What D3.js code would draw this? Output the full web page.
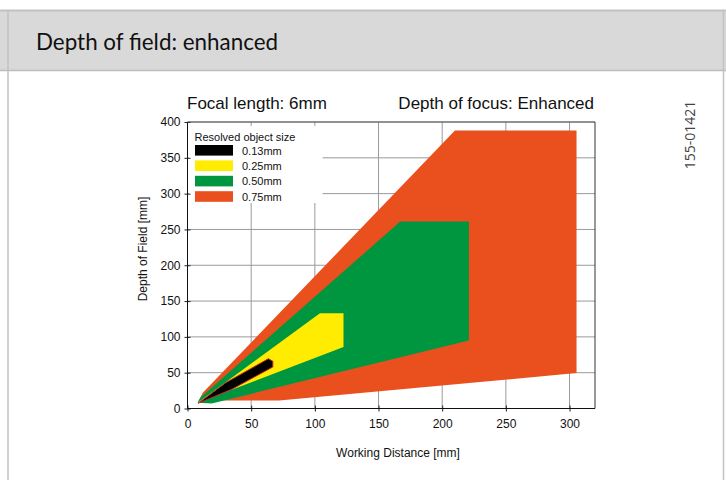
<!DOCTYPE html>
<html><head><meta charset="utf-8">
<script src="https://cdn.jsdelivr.net/npm/d3@7"></script>
<style>html,body{margin:0;padding:0;background:#fff;}svg{display:block;}</style>
</head><body>
<script>
// ---- data ----
const sizeLabels = ["0.13mm", "0.25mm", "0.50mm", "0.75mm"];
// polygon outlines (working distance [mm], depth of field [mm])
const wd_013 = [8.5, 30, 63.5, 67, 67, 35];
const dof_013 = [7.5, 36, 69.5, 66, 58, 27];
const wd_025 = [8, 104, 122.5, 122.5];
const dof_025 = [8, 133, 133, 86];
const wd_050 = [8, 10, 167, 221, 221, 19];
const dof_050 = [8, 15, 261, 261, 95, 7];
const wd_075 = [8, 12, 210, 305.5, 305.5, 72, 25];
const dof_075 = [8, 22, 388, 388, 49.5, 11, 11];
const xTicks = [0, 50, 100, 150, 200, 250, 300];
const yTicks = [0, 50, 100, 150, 200, 250, 300, 350, 400];
const colors = ["#000000", "#ffec00", "#009640", "#e9501e"];

const W = 726, H = 480;
const svg = d3.select("body").append("svg").attr("width", W).attr("height", H);
const sans = "'Liberation Sans', Arial, sans-serif";

// ---- page frame / header ----
svg.append("rect").attr("x", 0).attr("y", 10).attr("width", W).attr("height", 60).attr("fill", "#d9d9d9");
const bc = "#c2c2c2";
svg.append("line").attr("x1", 0).attr("x2", W).attr("y1", 10.5).attr("y2", 10.5).attr("stroke", bc).attr("stroke-width", 2);
svg.append("line").attr("x1", 0).attr("x2", W).attr("y1", 70.5).attr("y2", 70.5).attr("stroke", "#bdbdbd").attr("stroke-width", 1.5);
svg.append("line").attr("x1", 8).attr("x2", 8).attr("y1", 10).attr("y2", H).attr("stroke", bc).attr("stroke-width", 1.5);
svg.append("line").attr("x1", 723.5).attr("x2", 723.5).attr("y1", 10).attr("y2", H).attr("stroke", bc).attr("stroke-width", 1.5);
svg.append("text").attr("x", 36).attr("y", 50).attr("font-family", "Lato, 'Open Sans', sans-serif")
  .attr("font-size", 22.4).attr("fill", "#111").text("Depth of field: enhanced");
svg.append("text").attr("transform", "translate(695,135) rotate(-90)").attr("text-anchor", "middle")
  .attr("font-family", "'Open Sans', Lato, sans-serif").attr("font-size", 14).attr("fill", "#444").text("155-01421");

// ---- scales ----
const x = d3.scaleLinear().domain([0, 320]).range([187.5, 595]);
const y = d3.scaleLinear().domain([0, 400]).range([408.5, 122]);

// grid
const g = svg.append("g");
g.selectAll(".gx").data(xTicks.slice(1)).join("line")
  .attr("x1", d => x(d)).attr("x2", d => x(d)).attr("y1", y(400)).attr("y2", y(0))
  .attr("stroke", "#9a9a9a").attr("stroke-width", 1);
g.selectAll(".gy").data(yTicks.slice(1)).join("line")
  .attr("x1", x(0)).attr("x2", x(320)).attr("y1", d => y(d)).attr("y2", d => y(d))
  .attr("stroke", "#9a9a9a").attr("stroke-width", 1);

// legend box (covers grid)
svg.append("rect").attr("x", 188.5).attr("y", 126).attr("width", 134).attr("height", 77).attr("fill", "#fff");

// polygons
const series = [
  {wd: wd_075, dof: dof_075, c: colors[3]},
  {wd: wd_050, dof: dof_050, c: colors[2]},
  {wd: wd_025, dof: dof_025, c: colors[1]},
  {wd: wd_013, dof: dof_013, c: colors[0], outline: true}
];
const line = d3.line().x(d => x(d[0])).y(d => y(d[1])).curve(d3.curveLinearClosed);
series.forEach(s => {
  const pts = s.wd.map((v, i) => [v, s.dof[i]]);
  svg.append("path").attr("d", line(pts)).attr("fill", s.c)
    .attr("stroke", s.outline ? "#c0282d" : "none").attr("stroke-width", s.outline ? 1 : 0)
    .attr("stroke-linejoin", "round");
});

// axes
const ax = svg.append("g").attr("transform", `translate(0,${y(0)})`)
  .call(d3.axisBottom(x).tickValues(xTicks).tickSize(3).tickPadding(8).tickSizeOuter(0));
const ay = svg.append("g").attr("transform", `translate(${x(0)},0)`)
  .call(d3.axisLeft(y).tickValues(yTicks).tickSize(3).tickPadding(4).tickSizeOuter(0));
ax.selectAll(".tick line").attr("y1", -3).attr("y2", 3);
ay.selectAll(".tick line").attr("x1", -3).attr("x2", 3);
[ax, ay].forEach(a => {
  a.select(".domain").remove();
  a.selectAll("text").attr("font-family", sans).attr("font-size", 12).attr("fill", "#111");
  a.selectAll(".tick line").attr("stroke", "#222");
});
// axis lines & frame
svg.append("line").attr("x1", x(0)).attr("x2", x(320)).attr("y1", y(0)).attr("y2", y(0)).attr("stroke", "#111");
svg.append("line").attr("x1", x(0)).attr("x2", x(0)).attr("y1", y(0)).attr("y2", y(400)).attr("stroke", "#111");
svg.append("line").attr("x1", x(0)).attr("x2", x(320)).attr("y1", y(400)).attr("y2", y(400)).attr("stroke", "#555");
svg.append("line").attr("x1", x(320)).attr("x2", x(320)).attr("y1", y(0)).attr("y2", y(400)).attr("stroke", "#333");

// titles
svg.append("text").attr("x", 187).attr("y", 108.5).attr("font-family", sans).attr("font-size", 17).attr("fill", "#111")
  .text("Focal length: 6mm");
svg.append("text").attr("x", 594).attr("y", 108.5).attr("text-anchor", "end").attr("font-family", sans).attr("font-size", 17).attr("fill", "#111")
  .text("Depth of focus: Enhanced");
svg.append("text").attr("x", 398).attr("y", 457).attr("text-anchor", "middle").attr("font-family", sans).attr("font-size", 12).attr("fill", "#111")
  .text("Working Distance [mm]");
svg.append("text").attr("transform", "translate(146.5,249) rotate(-90)").attr("text-anchor", "middle").attr("font-family", sans).attr("font-size", 12).attr("fill", "#111")
  .text("Depth of Field [mm]");

// legend
const lg = svg.append("g");
lg.append("text").attr("x", 194.5).attr("y", 140.5).attr("font-family", sans).attr("font-size", 11).attr("fill", "#111")
  .text("Resolved object size");
sizeLabels.forEach((lab, i) => {
  const yy = 145 + i * 15.4;
  lg.append("rect").attr("x", 195).attr("y", yy).attr("width", 38).attr("height", 10.6).attr("fill", colors[i]);
  lg.append("text").attr("x", 242).attr("y", yy + 9.6).attr("font-family", sans).attr("font-size", 11).attr("fill", "#111").text(lab);
});
</script>
</body></html>
